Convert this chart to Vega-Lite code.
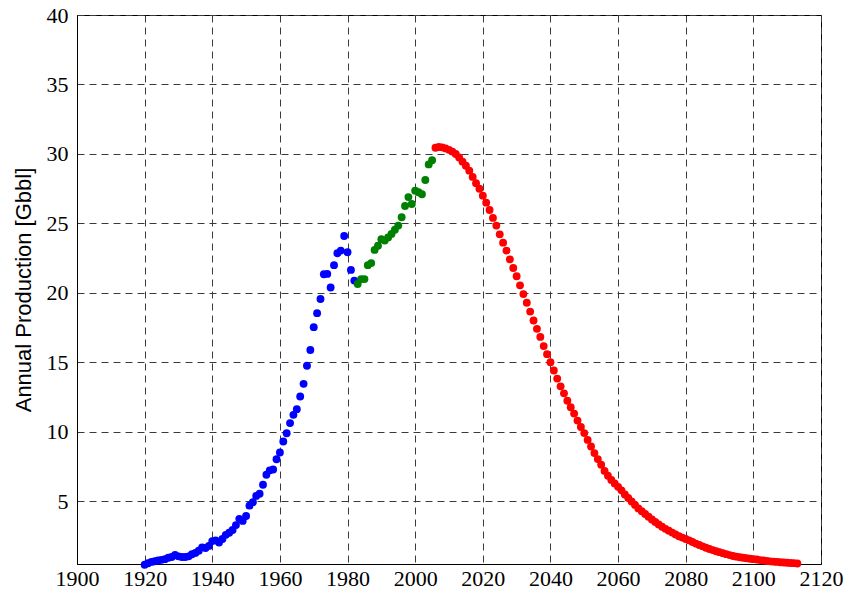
{
  "$schema": "https://vega.github.io/schema/vega-lite/v6.json",
  "autosize": "none",
  "width": 744,
  "height": 549,
  "padding": {"left": 77, "top": 15, "right": 24, "bottom": 30},
  "background": "white",
  "config": {
    "view": {"stroke": "black", "strokeWidth": 1},
    "axis": {
      "labelFont": "Liberation Serif",
      "labelFontSize": 22,
      "labelColor": "black",
      "domainColor": "black",
      "grid": true,
      "gridColor": "#3a3a3a",
      "gridDash": [7, 5],
      "gridWidth": 1,
      "ticks": false
    }
  },
  "data": {
    "values": [
      {"year": 1920, "prod": 0.45, "series": "A"},
      {"year": 1921, "prod": 0.55, "series": "A"},
      {"year": 1922, "prod": 0.65, "series": "A"},
      {"year": 1923, "prod": 0.7, "series": "A"},
      {"year": 1924, "prod": 0.75, "series": "A"},
      {"year": 1925, "prod": 0.8, "series": "A"},
      {"year": 1926, "prod": 0.85, "series": "A"},
      {"year": 1927, "prod": 0.95, "series": "A"},
      {"year": 1928, "prod": 1.0, "series": "A"},
      {"year": 1929, "prod": 1.15, "series": "A"},
      {"year": 1930, "prod": 1.05, "series": "A"},
      {"year": 1931, "prod": 1.0, "series": "A"},
      {"year": 1932, "prod": 1.0, "series": "A"},
      {"year": 1933, "prod": 1.05, "series": "A"},
      {"year": 1934, "prod": 1.2, "series": "A"},
      {"year": 1935, "prod": 1.3, "series": "A"},
      {"year": 1936, "prod": 1.45, "series": "A"},
      {"year": 1937, "prod": 1.7, "series": "A"},
      {"year": 1938, "prod": 1.65, "series": "A"},
      {"year": 1939, "prod": 1.8, "series": "A"},
      {"year": 1940, "prod": 2.15, "series": "A"},
      {"year": 1941, "prod": 2.2, "series": "A"},
      {"year": 1942, "prod": 2.05, "series": "A"},
      {"year": 1943, "prod": 2.3, "series": "A"},
      {"year": 1944, "prod": 2.6, "series": "A"},
      {"year": 1945, "prod": 2.75, "series": "A"},
      {"year": 1946, "prod": 2.95, "series": "A"},
      {"year": 1947, "prod": 3.3, "series": "A"},
      {"year": 1948, "prod": 3.75, "series": "A"},
      {"year": 1949, "prod": 3.6, "series": "A"},
      {"year": 1950, "prod": 3.95, "series": "A"},
      {"year": 1951, "prod": 4.7, "series": "A"},
      {"year": 1952, "prod": 4.95, "series": "A"},
      {"year": 1953, "prod": 5.4, "series": "A"},
      {"year": 1954, "prod": 5.55, "series": "A"},
      {"year": 1955, "prod": 6.2, "series": "A"},
      {"year": 1956, "prod": 6.92, "series": "A"},
      {"year": 1957, "prod": 7.24, "series": "A"},
      {"year": 1958, "prod": 7.3, "series": "A"},
      {"year": 1959, "prod": 8.04, "series": "A"},
      {"year": 1960, "prod": 8.52, "series": "A"},
      {"year": 1961, "prod": 9.31, "series": "A"},
      {"year": 1962, "prod": 9.91, "series": "A"},
      {"year": 1963, "prod": 10.64, "series": "A"},
      {"year": 1964, "prod": 11.23, "series": "A"},
      {"year": 1965, "prod": 11.64, "series": "A"},
      {"year": 1966, "prod": 12.55, "series": "A"},
      {"year": 1967, "prod": 13.46, "series": "A"},
      {"year": 1968, "prod": 14.76, "series": "A"},
      {"year": 1969, "prod": 15.9, "series": "A"},
      {"year": 1970, "prod": 17.54, "series": "A"},
      {"year": 1971, "prod": 18.55, "series": "A"},
      {"year": 1972, "prod": 19.57, "series": "A"},
      {"year": 1973, "prod": 21.35, "series": "A"},
      {"year": 1974, "prod": 21.37, "series": "A"},
      {"year": 1975, "prod": 20.39, "series": "A"},
      {"year": 1976, "prod": 22.0, "series": "A"},
      {"year": 1977, "prod": 22.86, "series": "A"},
      {"year": 1978, "prod": 23.05, "series": "A"},
      {"year": 1979, "prod": 24.1, "series": "A"},
      {"year": 1980, "prod": 22.93, "series": "A"},
      {"year": 1981, "prod": 21.66, "series": "A"},
      {"year": 1982, "prod": 20.89, "series": "A"},
      {"year": 1983, "prod": 20.65, "series": "B"},
      {"year": 1984, "prod": 21.0, "series": "B"},
      {"year": 1985, "prod": 21.0, "series": "B"},
      {"year": 1986, "prod": 22.0, "series": "B"},
      {"year": 1987, "prod": 22.15, "series": "B"},
      {"year": 1988, "prod": 23.1, "series": "B"},
      {"year": 1989, "prod": 23.4, "series": "B"},
      {"year": 1990, "prod": 23.87, "series": "B"},
      {"year": 1991, "prod": 23.77, "series": "B"},
      {"year": 1992, "prod": 24.0, "series": "B"},
      {"year": 1993, "prod": 24.25, "series": "B"},
      {"year": 1994, "prod": 24.55, "series": "B"},
      {"year": 1995, "prod": 24.85, "series": "B"},
      {"year": 1996, "prod": 25.45, "series": "B"},
      {"year": 1997, "prod": 26.26, "series": "B"},
      {"year": 1998, "prod": 26.9, "series": "B"},
      {"year": 1999, "prod": 26.4, "series": "B"},
      {"year": 2000, "prod": 27.36, "series": "B"},
      {"year": 2001, "prod": 27.25, "series": "B"},
      {"year": 2002, "prod": 27.1, "series": "B"},
      {"year": 2003, "prod": 28.13, "series": "B"},
      {"year": 2004, "prod": 29.25, "series": "B"},
      {"year": 2005, "prod": 29.55, "series": "B"},
      {"year": 2006, "prod": 30.45, "series": "C"},
      {"year": 2007, "prod": 30.5, "series": "C"},
      {"year": 2008, "prod": 30.48, "series": "C"},
      {"year": 2009, "prod": 30.4, "series": "C"},
      {"year": 2010, "prod": 30.3, "series": "C"},
      {"year": 2011, "prod": 30.17, "series": "C"},
      {"year": 2012, "prod": 30.0, "series": "C"},
      {"year": 2013, "prod": 29.75, "series": "C"},
      {"year": 2014, "prod": 29.45, "series": "C"},
      {"year": 2015, "prod": 29.15, "series": "C"},
      {"year": 2016, "prod": 28.8, "series": "C"},
      {"year": 2017, "prod": 28.35, "series": "C"},
      {"year": 2018, "prod": 27.9, "series": "C"},
      {"year": 2019, "prod": 27.5, "series": "C"},
      {"year": 2020, "prod": 27.0, "series": "C"},
      {"year": 2021, "prod": 26.5, "series": "C"},
      {"year": 2022, "prod": 25.97, "series": "C"},
      {"year": 2023, "prod": 25.4, "series": "C"},
      {"year": 2024, "prod": 24.85, "series": "C"},
      {"year": 2025, "prod": 24.22, "series": "C"},
      {"year": 2026, "prod": 23.62, "series": "C"},
      {"year": 2027, "prod": 23.05, "series": "C"},
      {"year": 2028, "prod": 22.42, "series": "C"},
      {"year": 2029, "prod": 21.8, "series": "C"},
      {"year": 2030, "prod": 21.2, "series": "C"},
      {"year": 2031, "prod": 20.55, "series": "C"},
      {"year": 2032, "prod": 19.92, "series": "C"},
      {"year": 2033, "prod": 19.3, "series": "C"},
      {"year": 2034, "prod": 18.66, "series": "C"},
      {"year": 2035, "prod": 18.02, "series": "C"},
      {"year": 2036, "prod": 17.42, "series": "C"},
      {"year": 2037, "prod": 16.84, "series": "C"},
      {"year": 2038, "prod": 16.18, "series": "C"},
      {"year": 2039, "prod": 15.6, "series": "C"},
      {"year": 2040, "prod": 15.02, "series": "C"},
      {"year": 2041, "prod": 14.42, "series": "C"},
      {"year": 2042, "prod": 13.84, "series": "C"},
      {"year": 2043, "prod": 13.28, "series": "C"},
      {"year": 2044, "prod": 12.78, "series": "C"},
      {"year": 2045, "prod": 12.25, "series": "C"},
      {"year": 2046, "prod": 11.78, "series": "C"},
      {"year": 2047, "prod": 11.32, "series": "C"},
      {"year": 2048, "prod": 10.82, "series": "C"},
      {"year": 2049, "prod": 10.36, "series": "C"},
      {"year": 2050, "prod": 9.92, "series": "C"},
      {"year": 2051, "prod": 9.43, "series": "C"},
      {"year": 2052, "prod": 8.95, "series": "C"},
      {"year": 2053, "prod": 8.48, "series": "C"},
      {"year": 2054, "prod": 8.05, "series": "C"},
      {"year": 2055, "prod": 7.64, "series": "C"},
      {"year": 2056, "prod": 7.2, "series": "C"},
      {"year": 2057, "prod": 6.85, "series": "C"},
      {"year": 2058, "prod": 6.55, "series": "C"},
      {"year": 2059, "prod": 6.3, "series": "C"},
      {"year": 2060, "prod": 6.05, "series": "C"},
      {"year": 2061, "prod": 5.8, "series": "C"},
      {"year": 2062, "prod": 5.5, "series": "C"},
      {"year": 2063, "prod": 5.25, "series": "C"},
      {"year": 2064, "prod": 5.0, "series": "C"},
      {"year": 2065, "prod": 4.75, "series": "C"},
      {"year": 2066, "prod": 4.5, "series": "C"},
      {"year": 2067, "prod": 4.3, "series": "C"},
      {"year": 2068, "prod": 4.1, "series": "C"},
      {"year": 2069, "prod": 3.9, "series": "C"},
      {"year": 2070, "prod": 3.7, "series": "C"},
      {"year": 2071, "prod": 3.52, "series": "C"},
      {"year": 2072, "prod": 3.35, "series": "C"},
      {"year": 2073, "prod": 3.18, "series": "C"},
      {"year": 2074, "prod": 3.03, "series": "C"},
      {"year": 2075, "prod": 2.9, "series": "C"},
      {"year": 2076, "prod": 2.76, "series": "C"},
      {"year": 2077, "prod": 2.63, "series": "C"},
      {"year": 2078, "prod": 2.5, "series": "C"},
      {"year": 2079, "prod": 2.4, "series": "C"},
      {"year": 2080, "prod": 2.3, "series": "C"},
      {"year": 2081, "prod": 2.2, "series": "C"},
      {"year": 2082, "prod": 2.08, "series": "C"},
      {"year": 2083, "prod": 1.97, "series": "C"},
      {"year": 2084, "prod": 1.87, "series": "C"},
      {"year": 2085, "prod": 1.77, "series": "C"},
      {"year": 2086, "prod": 1.67, "series": "C"},
      {"year": 2087, "prod": 1.58, "series": "C"},
      {"year": 2088, "prod": 1.5, "series": "C"},
      {"year": 2089, "prod": 1.42, "series": "C"},
      {"year": 2090, "prod": 1.35, "series": "C"},
      {"year": 2091, "prod": 1.28, "series": "C"},
      {"year": 2092, "prod": 1.21, "series": "C"},
      {"year": 2093, "prod": 1.14, "series": "C"},
      {"year": 2094, "prod": 1.08, "series": "C"},
      {"year": 2095, "prod": 1.03, "series": "C"},
      {"year": 2096, "prod": 0.99, "series": "C"},
      {"year": 2097, "prod": 0.95, "series": "C"},
      {"year": 2098, "prod": 0.91, "series": "C"},
      {"year": 2099, "prod": 0.88, "series": "C"},
      {"year": 2100, "prod": 0.85, "series": "C"},
      {"year": 2101, "prod": 0.82, "series": "C"},
      {"year": 2102, "prod": 0.78, "series": "C"},
      {"year": 2103, "prod": 0.75, "series": "C"},
      {"year": 2104, "prod": 0.72, "series": "C"},
      {"year": 2105, "prod": 0.69, "series": "C"},
      {"year": 2106, "prod": 0.67, "series": "C"},
      {"year": 2107, "prod": 0.65, "series": "C"},
      {"year": 2108, "prod": 0.63, "series": "C"},
      {"year": 2109, "prod": 0.61, "series": "C"},
      {"year": 2110, "prod": 0.59, "series": "C"},
      {"year": 2111, "prod": 0.57, "series": "C"},
      {"year": 2112, "prod": 0.56, "series": "C"},
      {"year": 2113, "prod": 0.54, "series": "C"}
    ]
  },
  "mark": {"type": "circle", "size": 62, "opacity": 1},
  "encoding": {
    "x": {
      "field": "year",
      "type": "quantitative",
      "scale": {"domain": [1900, 2120], "nice": false, "zero": false},
      "axis": {
        "title": null,
        "values": [1900, 1920, 1940, 1960, 1980, 2000, 2020, 2040, 2060, 2080, 2100, 2120],
        "format": "d",
        "labelPadding": 4,
        "labelFlush": false
      }
    },
    "y": {
      "field": "prod",
      "type": "quantitative",
      "scale": {"domain": [0.5, 40], "nice": false, "zero": false},
      "axis": {
        "title": "Annual Production [Gbbl]",
        "titleFont": "Liberation Sans",
        "titleFontSize": 22,
        "titleFontWeight": "normal",
        "titleColor": "black",
        "titlePadding": 11,
        "values": [5, 10, 15, 20, 25, 30, 35, 40],
        "labelPadding": 9,
        "labelFlush": false
      }
    },
    "color": {
      "field": "series",
      "type": "nominal",
      "scale": {"domain": ["A", "B", "C"], "range": ["#0000ff", "#008000", "#ff0000"]},
      "legend": null
    }
  }
}
